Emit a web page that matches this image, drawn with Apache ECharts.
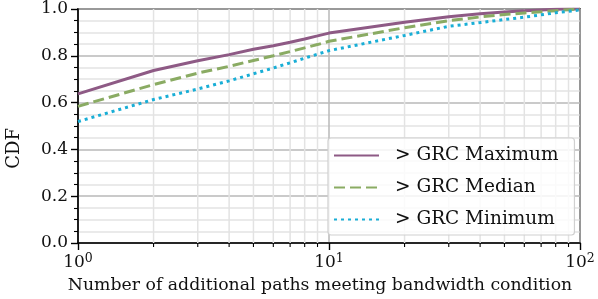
<!DOCTYPE html>
<html><head><meta charset="utf-8">
<script src="https://cdn.jsdelivr.net/npm/echarts@6/dist/echarts.min.js"></script>
<style>html,body{margin:0;padding:0;background:#fff}#c{width:598px;height:299px}</style>
</head><body><div id="c"></div>
<script>
const xs = [1,2,3,4,5,6,7,8,9,10,20,30,40,50,60,70,80,90,100];
const grcMaximum = [0.637,0.737,0.779,0.805,0.828,0.843,0.858,0.872,0.885,0.897,0.943,0.967,0.980,0.987,0.992,0.996,0.999,1.0,1.0];
const grcMedian  = [0.584,0.677,0.726,0.755,0.780,0.800,0.818,0.834,0.848,0.862,0.920,0.950,0.966,0.976,0.983,0.988,0.993,0.997,1.0];
const grcMinimum = [0.519,0.613,0.658,0.693,0.723,0.748,0.770,0.790,0.807,0.822,0.887,0.926,0.942,0.955,0.965,0.975,0.984,0.990,0.996];
const seriesNames = ['> GRC Maximum','> GRC Median','> GRC Minimum'];
const minorXTicks = [2,3,4,5,6,7,8,9,20,30,40,50,60,70,80,90];
const xTitle = 'Number of additional paths meeting bandwidth condition';
const yTitle = 'CDF';

const FONT = 'DejaVu Serif';
const TXT = '#111';
const colors = ['#8e5a85','#8aab63','#19aed6'];
const pair = arr => xs.map((x,i)=>[x,arr[i]]);

const chart = echarts.init(document.getElementById('c'));
chart.setOption({
  animation:false,
  backgroundColor:'#fff',
  textStyle:{fontFamily:FONT},
  grid:{left:78,right:18,top:9,bottom:55,show:true,borderColor:'#000',borderWidth:1.6,backgroundColor:'transparent'},
  xAxis:{type:'log',logBase:10,min:1,max:100,
    axisLine:{show:true,lineStyle:{color:'#000',width:1.6}},
    axisTick:{show:true,inside:false,length:7,lineStyle:{color:'#000',width:1.4}},
    splitLine:{show:true,lineStyle:{color:'#b8b8b8',width:1.5}},
    axisLabel:{margin:9,color:TXT,fontFamily:FONT,fontSize:17,
      formatter:v=>'{b|10}{s|'+Math.round(Math.log10(v))+'}',
      rich:{b:{fontSize:17,fontFamily:FONT,color:TXT},s:{fontSize:12.5,fontFamily:FONT,color:TXT,verticalAlign:'top',padding:[0,0,9,0]}}},
    name:xTitle,nameLocation:'middle',nameGap:34,
    nameTextStyle:{fontFamily:FONT,fontSize:17.3,color:TXT,padding:[0,18,0,0]}
  },
  yAxis:{type:'value',min:0,max:1,interval:0.2,
    axisLine:{show:true,lineStyle:{color:'#000',width:1.6}},
    axisTick:{show:true,inside:false,length:7,lineStyle:{color:'#000',width:1.4}},
    minorTick:{show:true,splitNumber:4,length:4,lineStyle:{color:'#000',width:1.1}},
    splitLine:{show:true,lineStyle:{color:'#b8b8b8',width:1.5}},
    minorSplitLine:{show:true,lineStyle:{color:'#e3e3e3',width:1.5}},
    axisLabel:{margin:10,color:TXT,fontFamily:FONT,fontSize:17,formatter:v=>v.toFixed(1)}
  },
  graphic:[{type:'text',left:5,top:128,rotation:Math.PI/2,
    style:{text:yTitle,font:'18px "DejaVu Serif"',fill:TXT}}],
  legend:{orient:'vertical',left:328,top:138,
    data:seriesNames,
    itemWidth:45,itemHeight:14,itemGap:13,
    padding:[8,16,6,5],
    itemStyle:{color:'rgba(0,0,0,0)',borderColor:'rgba(0,0,0,0)',borderWidth:0,opacity:0},
    backgroundColor:'rgba(255,255,255,0.82)',borderColor:'#d0d0d0',borderWidth:1.2,borderRadius:3,
    textStyle:{fontFamily:FONT,fontSize:18.5,color:TXT,padding:[0,0,0,11]}
  },
  series:[
    {type:'custom',silent:true,z:1,clip:false,
      data:minorXTicks.map(v=>[v]),
      renderItem:(params,api)=>{
        const top=api.coord([api.value(0),1]);
        const bot=api.coord([api.value(0),0]);
        return {type:'group',children:[
          {type:'line',shape:{x1:bot[0],y1:bot[1],x2:top[0],y2:top[1]},style:{stroke:'#e3e3e3',lineWidth:1.5}},
          {type:'line',shape:{x1:bot[0],y1:bot[1],x2:bot[0],y2:bot[1]+4}, style:{stroke:'#000',lineWidth:1.1}}
        ]};
      }},
    {name:seriesNames[0],type:'line',data:pair(grcMaximum),showSymbol:false,symbol:'none',z:5,
      lineStyle:{color:colors[0],width:3,type:'solid'},itemStyle:{color:colors[0]}},
    {name:seriesNames[1],type:'line',data:pair(grcMedian),showSymbol:false,symbol:'none',z:5,
      lineStyle:{color:colors[1],width:3,type:[11,5]},itemStyle:{color:colors[1]}},
    {name:seriesNames[2],type:'line',data:pair(grcMinimum),showSymbol:false,symbol:'none',z:5,
      lineStyle:{color:colors[2],width:3,type:[3,4]},itemStyle:{color:colors[2]}}
  ]
});
</script></body></html>
